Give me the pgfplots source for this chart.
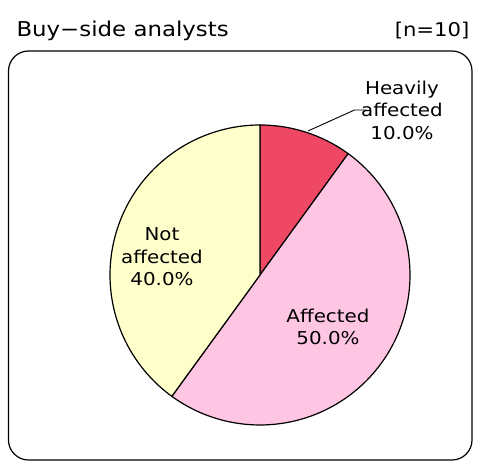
\documentclass[border=0pt]{standalone}
\usepackage{pgfplots}
\usepackage{pgfplotstable}
\pgfplotsset{compat=1.18}
\usepackage{fontspec}
\setmainfont[FakeStretch=1.12]{DejaVu Sans}

\definecolor{heavy}{RGB}{238,72,100}
\definecolor{affect}{RGB}{255,198,228}
\definecolor{notaff}{RGB}{255,255,204}

% share of respondents, %
\pgfplotstableread{
group value
Heavily 10
Affected 50
Not 40
}\piedata

\pgfplotstablegetelem{0}{value}\of\piedata \let\va\pgfplotsretval
\pgfplotstablegetelem{1}{value}\of\piedata \let\vb\pgfplotsretval
\pgfplotstablegetelem{2}{value}\of\piedata \let\vc\pgfplotsretval
\pgfmathsetmacro\aA{90}
\pgfmathsetmacro\aB{\aA-3.6*\va}
\pgfmathsetmacro\aC{\aB-3.6*\vb}
\pgfmathsetmacro\aD{\aC-3.6*\vc}

\begin{document}
\begin{tikzpicture}
\begin{axis}[
    hide axis, scale only axis,
    width=481bp, height=462bp,
    xmin=-1.7333, xmax=1.4733,
    ymin=-1.2467, ymax=1.8333,
    clip=false,
]
\path (rel axis cs:0,0) rectangle (rel axis cs:1,1);
% frame and titles
\draw[line width=1.2bp, rounded corners=20bp]
    (axis cs:-1.6767,-1.2333) rectangle (axis cs:1.4133,1.4933);
\node[anchor=base west, font=\fontsize{20.5}{24}\selectfont]
    at (axis cs:-1.6467,1.5867) {Buy−side analysts};
\node[anchor=base east, font=\fontsize{19}{24}\selectfont]
    at (axis cs:1.42,1.5867) {[n=10]};

% slices
\addplot[fill=heavy, draw=black, line width=1.2bp, domain=\aB:\aA, samples=40, variable=\t]
    ({cos(t)},{sin(t)}) -- (axis cs:0,0) -- cycle;
\addplot[fill=affect, draw=black, line width=1.2bp, domain=\aC:\aB, samples=120, variable=\t]
    ({cos(t)},{sin(t)}) -- (axis cs:0,0) -- cycle;
\addplot[fill=notaff, draw=black, line width=1.2bp, domain=\aD:\aC, samples=100, variable=\t]
    ({cos(t)},{sin(t)}) -- (axis cs:0,0) -- cycle;

% labels
\draw[line width=0.9bp] (axis cs:0.32,0.96) -- (axis cs:0.63,1.1) -- (axis cs:0.7067,1.1);
\node[align=center, font=\fontsize{17.8}{22.5}\selectfont]
    at (axis cs:0.9467,1.1) {Heavily\\affected\\10.0\%};
\node[align=center, font=\fontsize{17.8}{22.5}\selectfont]
    at (axis cs:0.4533,-0.3467) {Affected\\50.0\%};
\node[align=center, font=\fontsize{17.8}{22.5}\selectfont]
    at (axis cs:-0.6533,0.12) {Not\\affected\\40.0\%};
\end{axis}
\end{tikzpicture}
\end{document}
